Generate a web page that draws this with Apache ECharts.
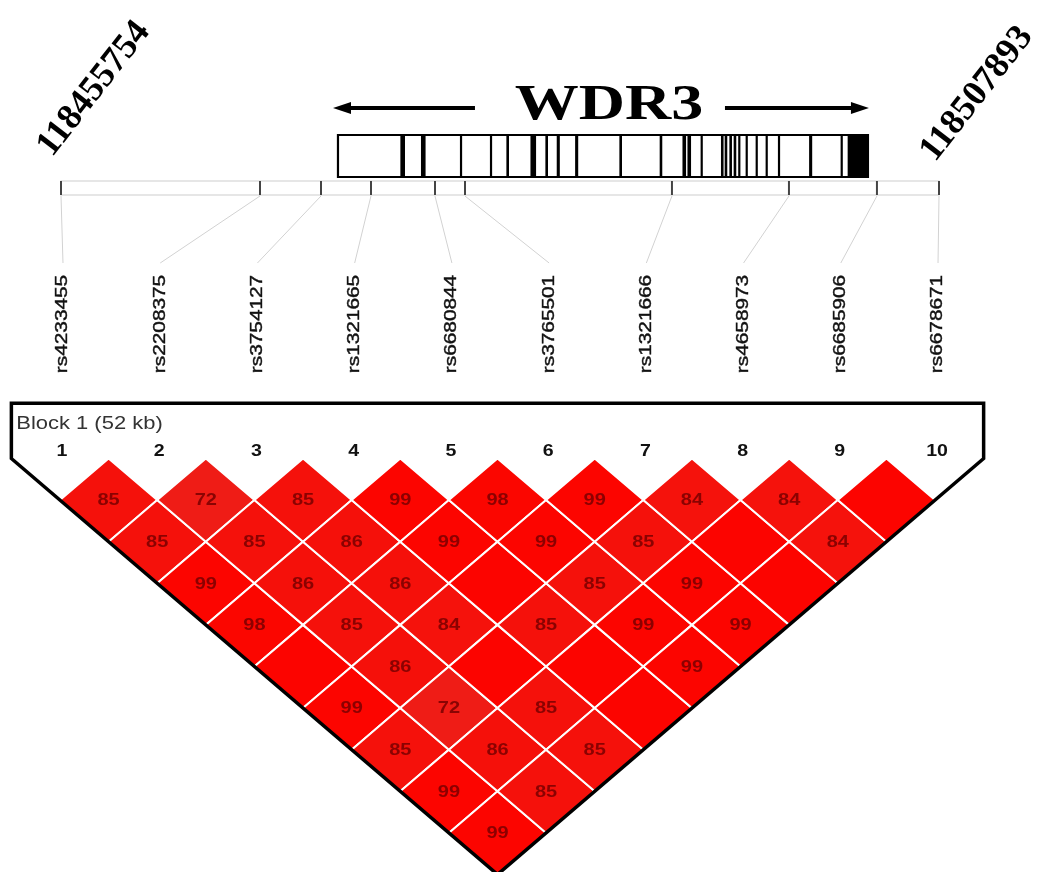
<!DOCTYPE html>
<html>
<head>
<meta charset="utf-8">
<style>
html, body { margin: 0; padding: 0; background: #fff; }
#chart { width: 1041px; height: 872px; }
</style>
<script src="https://cdn.jsdelivr.net/npm/echarts@6/dist/echarts.min.js"></script>
</head>
<body>
<div id="chart"></div>
<script>
// SNPs in the block, left to right
const snpNames = ['rs4233455', 'rs2208375', 'rs3754127', 'rs1321665', 'rs6680844',
    'rs3765501', 'rs1321666', 'rs4658973', 'rs6685906', 'rs6678671'];
const snpPositions = [118455754, 118467571, 118471193, 118474162, 118477962,
    118479744, 118492035, 118498983, 118504208, 118507893];

const regionStart = 118455754;
const regionEnd = 118507893;
const blockTitle = 'Block 1 (52 kb)';

const geneName = 'WDR3';
const geneStart = 118472202;
const geneEnd = 118503674;
const exons = [
    [118475925, 118476163], [118477148, 118477386], [118479462, 118479551], [118481243, 118481332],
    [118482220, 118482339], [118483650, 118483948], [118484536, 118484655], [118485210, 118485358],
    [118486302, 118486450], [118488930, 118489049], [118491323, 118491442], [118492677, 118492855],
    [118492973, 118493151], [118493754, 118493843], [118494963, 118495082], [118495183, 118495302],
    [118495462, 118495581], [118495717, 118495836], [118495987, 118496076], [118496427, 118496516],
    [118497021, 118497110], [118497614, 118497703], [118498345, 118498434], [118500197, 118500345],
    [118502068, 118502157], [118502486, 118503674]
];

// D' x 100 for SNP i against SNP j > i (100 = no number shown)
const dprimeRows = [
    [85, 85, 99, 98, 100, 99, 85, 99, 99],
    [72, 85, 86, 85, 86, 72, 86, 85],
    [85, 86, 86, 84, 100, 85, 85],
    [99, 99, 100, 85, 100, 100],
    [98, 99, 85, 99, 99],
    [99, 85, 99, 99],
    [84, 100, 100],
    [84, 84],
    [100]
];

const nSnp = snpNames.length;
const cells = [];
dprimeRows.forEach(function (row, i) {
    row.forEach(function (v, k) {
        cells.push([i + 1, i + k + 2, v]);
    });
});

function ldColor(v) {
    const t = (100 - v) / 30;
    const r = Math.round(252 - 14 * t);
    const g = Math.round(4 + 26 * t);
    return 'rgb(' + r + ',' + g + ',' + Math.max(0, g - 6) + ')';
}

const sans = '"Liberation Sans", Arial, sans-serif';
const serif = '"Liberation Serif", "Times New Roman", serif';

const elem = document.getElementById('chart');
const myChart = echarts.init(elem, null, { renderer: 'canvas' });

const bpPerPx = (regionEnd - regionStart) / 878;

myChart.setOption({
    animation: false,
    grid: { left: 0, right: 0, top: 0, bottom: 0 },
    xAxis: [
        { type: 'value', min: 0.383, max: 11.09, show: false },
        { type: 'value', min: regionStart - 61 * bpPerPx, max: regionEnd + 102 * bpPerPx, show: false }
    ],
    yAxis: [
        { type: 'value', inverse: true, min: -11.02, max: 9.94, show: false },
        { type: 'value', inverse: true, min: 0, max: 872, show: false }
    ],
    series: [
        {
            // LD diamonds
            type: 'custom',
            xAxisIndex: 0,
            yAxisIndex: 0,
            z: 2,
            data: cells,
            renderItem: function (params, api) {
                const i = api.value(0), j = api.value(1), v = api.value(2);
                const cx = (i + j) / 2, d = j - i;
                const pts = [
                    api.coord([cx, d - 1]), api.coord([cx + 0.5, d]),
                    api.coord([cx, d + 1]), api.coord([cx - 0.5, d])
                ];
                const c = api.coord([cx, d]);
                const children = [{
                    type: 'polygon',
                    shape: { points: pts },
                    style: { fill: ldColor(v), stroke: '#fff', lineWidth: 2 }
                }];
                if (v < 100) {
                    children.push({
                        type: 'text',
                        x: c[0], y: c[1] + 1,
                        scaleX: 1.25,
                        style: {
                            text: String(v), fill: 'rgba(120,0,0,0.85)',
                            font: 'bold 16px ' + sans, align: 'center', verticalAlign: 'middle'
                        }
                    });
                }
                return { type: 'group', children: children };
            }
        },
        {
            // block frame, title and SNP numbers
            type: 'custom',
            xAxisIndex: 0,
            yAxisIndex: 0,
            z: 3,
            data: [[nSnp]],
            renderItem: function (params, api) {
                const n = api.value(0);
                const pts = [
                    api.coord([0.5, 0]), api.coord([0.5, -1.33]), api.coord([n + 0.5, -1.33]),
                    api.coord([n + 0.5, 0]), api.coord([(n + 1) / 2, n])
                ];
                const children = [{
                    type: 'polygon',
                    shape: { points: pts },
                    style: { fill: 'none', stroke: '#000', lineWidth: 3.5, lineJoin: 'miter' }
                }];
                const t = api.coord([0.55, -0.83]);
                children.push({
                    type: 'text', x: t[0], y: t[1], scaleX: 1.22,
                    style: { text: blockTitle, fill: '#333', font: '18px ' + sans, verticalAlign: 'middle' }
                });
                for (let k = 1; k <= n; k++) {
                    const p = api.coord([k, -0.18]);
                    children.push({
                        type: 'text', x: p[0] + 2, y: p[1], scaleX: 1.15,
                        style: { text: String(k), fill: '#111', font: 'bold 17px ' + sans, align: 'center', verticalAlign: 'middle' }
                    });
                }
                return { type: 'group', children: children };
            }
        },
        {
            // SNP names
            type: 'custom',
            xAxisIndex: 0,
            yAxisIndex: 1,
            data: snpNames.map(function (n, i) { return [i + 1, 324]; }),
            renderItem: function (params, api) {
                const p = api.coord([api.value(0), api.value(1)]);
                return {
                    type: 'text', x: p[0] + 3, y: p[1], rotation: Math.PI / 2, scaleX: 1.3,
                    style: {
                        text: snpNames[params.dataIndex], fill: '#111', font: '16px ' + sans,
                        align: 'center', verticalAlign: 'middle',
                        stroke: '#111', lineWidth: 0.4
                    }
                };
            }
        },
        {
            // physical map: position bar, gene box, arrows, labels
            type: 'custom',
            xAxisIndex: 1,
            yAxisIndex: 1,
            data: [[regionStart, regionEnd, geneStart, geneEnd]],
            renderItem: function (params, api) {
                const rs = api.coord([api.value(0), 181]);
                const re = api.coord([api.value(1), 195]);
                const gs = api.coord([api.value(2), 135]);
                const ge = api.coord([api.value(3), 177]);
                const mid = (gs[0] + ge[0]) / 2;
                const ay = api.coord([api.value(2), 108])[1];
                const children = [
                    {
                        type: 'rect',
                        shape: { x: rs[0], y: rs[1], width: re[0] - rs[0], height: re[1] - rs[1] },
                        style: { fill: 'none', stroke: '#cdcdcd', lineWidth: 1.2 }
                    },
                    {
                        type: 'rect',
                        shape: { x: gs[0], y: gs[1], width: ge[0] - gs[0], height: ge[1] - gs[1] },
                        style: { fill: '#fff', stroke: '#000', lineWidth: 2.2 }
                    },
                    {
                        type: 'line',
                        shape: { x1: mid - 128, y1: ay, x2: gs[0] + 6, y2: ay },
                        style: { stroke: '#000', lineWidth: 4 }
                    },
                    {
                        type: 'polygon',
                        shape: { points: [[gs[0] - 5, ay], [gs[0] + 13, ay - 6], [gs[0] + 13, ay + 6]] },
                        style: { fill: '#000' }
                    },
                    {
                        type: 'line',
                        shape: { x1: mid + 122, y1: ay, x2: ge[0] - 10, y2: ay },
                        style: { stroke: '#000', lineWidth: 4 }
                    },
                    {
                        type: 'polygon',
                        shape: { points: [[ge[0] + 1, ay], [ge[0] - 17, ay - 6], [ge[0] - 17, ay + 6]] },
                        style: { fill: '#000' }
                    },
                    {
                        type: 'text', x: mid + 6, y: ay - 2, scaleX: 1.28,
                        style: { text: geneName, fill: '#000', font: 'bold 50px ' + serif, align: 'center', verticalAlign: 'middle' }
                    },
                    {
                        type: 'text', x: rs[0] + 33, y: 89, rotation: 52 * Math.PI / 180,
                        style: { text: String(regionStart), fill: '#000', font: 'bold 36px ' + serif, align: 'center', verticalAlign: 'middle' }
                    },
                    {
                        type: 'text', x: re[0] + 38, y: 94, rotation: 52 * Math.PI / 180,
                        style: { text: String(regionEnd), fill: '#000', font: 'bold 36px ' + serif, align: 'center', verticalAlign: 'middle' }
                    }
                ];
                return { type: 'group', children: children };
            }
        },
        {
            // exons
            type: 'custom',
            xAxisIndex: 1,
            yAxisIndex: 1,
            z: 3,
            data: exons,
            renderItem: function (params, api) {
                const a = api.coord([api.value(0), 136]);
                const b = api.coord([api.value(1), 176]);
                return {
                    type: 'rect',
                    shape: { x: a[0] - 0.3, y: a[1], width: Math.max(2.2, b[0] - a[0] + 0.6), height: b[1] - a[1] },
                    style: { fill: '#000' }
                };
            }
        },
        {
            // SNP ticks and connectors to their names
            type: 'custom',
            xAxisIndex: 1,
            yAxisIndex: 1,
            z: 3,
            data: snpPositions.map(function (p, i) { return [p, i + 1]; }),
            renderItem: function (params, api) {
                const top = api.coord([api.value(0), 181]);
                const bot = api.coord([api.value(0), 196]);
                const endY = api.coord([api.value(0), 263])[1];
                const endX = myChart.convertToPixel({ xAxisIndex: 0 }, api.value(1)) + 3;
                return {
                    type: 'group',
                    children: [
                        {
                            type: 'line',
                            shape: { x1: bot[0], y1: bot[1], x2: endX, y2: endY },
                            style: { stroke: '#d2d2d2', lineWidth: 1 }
                        },
                        {
                            type: 'line',
                            shape: { x1: top[0], y1: top[1], x2: top[0], y2: bot[1] - 1 },
                            style: { stroke: '#444', lineWidth: 2 }
                        }
                    ]
                };
            }
        }
    ]
});

window.addEventListener('resize', function () {
    myChart.resize();
});
</script>
</body>
</html>
